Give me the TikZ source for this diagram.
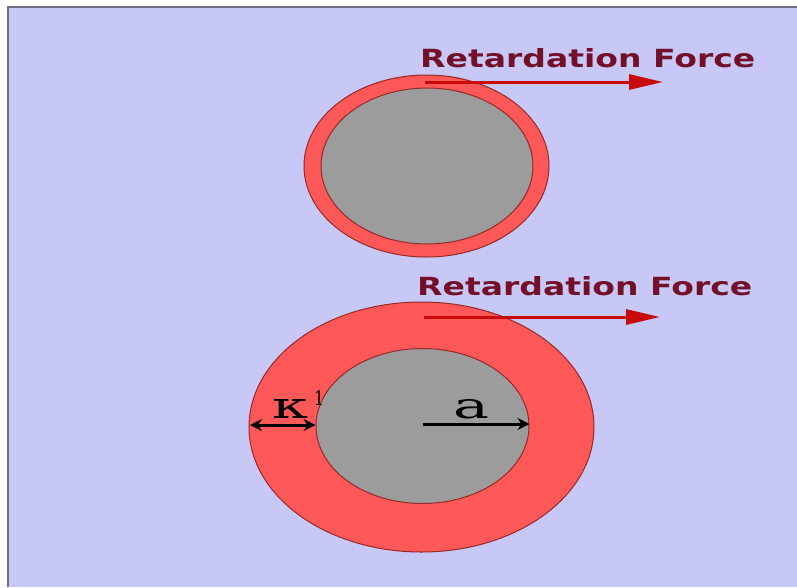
\documentclass[tikz,border=0pt]{standalone}
\usepackage{fontspec}
\usetikzlibrary{shapes.geometric,arrows.meta}
\newfontfamily\labelfont{DejaVu Sans}
\newfontfamily\symfont{DejaVu Serif}
\definecolor{bgcol}{RGB}{200,200,247}
\definecolor{framecol}{RGB}{110,110,130}
\definecolor{shellcol}{RGB}{255,88,88}
\definecolor{shelledge}{RGB}{150,40,40}
\definecolor{corecol}{RGB}{156,156,156}
\definecolor{textcol}{RGB}{115,15,40}
\definecolor{forcecol}{RGB}{200,10,10}
\tikzset{
  shell/.style={ellipse, draw=shelledge, line width=1pt, fill=shellcol, inner sep=0pt},
  core/.style={ellipse, draw=shelledge, line width=1pt, fill=corecol, inner sep=0pt},
  forcelabel/.style={text=textcol, inner sep=0pt, anchor=west},
  forcearrow/.style={draw=forcecol, line width=3pt, -{Triangle[length=34pt,width=15pt]}},
  dimarrow/.style={draw=black, line width=3pt, -{Stealth[length=12pt,width=12pt]}},
  dimdouble/.style={draw=black, line width=3pt, {Stealth[length=12pt,width=12pt]}-{Stealth[length=12pt,width=12pt]}},
  symlabel/.style={inner sep=0pt}
}
\begin{document}
\begin{tikzpicture}[x=1pt,y=-1pt]
\useasboundingbox (0,0) rectangle (797,587);
\fill[white] (0,0) rectangle (797,587);
\fill[bgcol] (8,7) rectangle (797,587);
\draw[framecol, line width=2pt] (8,587) -- (8,7) -- (797,7);
% top particle
\node[shell, minimum width=245pt, minimum height=182pt] (o1) at (426.5,166) {};
\node[core, minimum width=212pt, minimum height=156pt] (c1) at (427,166) {};
% bottom particle
\node[shell, minimum width=345pt, minimum height=250pt] (o2) at (421.5,427) {};
\node[core, minimum width=213pt, minimum height=155pt] (c2) at (422.5,426) {};
% labels
\node[forcelabel] (t1) at (420,58) {\resizebox{335pt}{19pt}{\labelfont\bfseries Retardation Force}};
\node[forcelabel] (t2) at (417,286) {\resizebox{335pt}{19pt}{\labelfont\bfseries Retardation Force}};
\coordinate (f1s) at (425,82);
\coordinate (f1e) at (663,82);
\coordinate (f2s) at (424,317);
\coordinate (f2e) at (660,317);
\draw[forcearrow] (f1s) -- (f1e);
\draw[forcearrow] (f2s) -- (f2e);
% dimension arrows
\coordinate (ks) at (250,425);
\coordinate (ke) at (c2.west |- 0,425);
\draw[dimdouble] (ks) -- (ke);
\coordinate (as) at (423,424);
\draw[dimarrow] (as) -- (c2.east |- 0,424);
\node[symlabel, anchor=south west] (kap) at (272,419) {\resizebox{36pt}{19pt}{\symfont κ}};
\node[symlabel, anchor=south west] (one) at (314,406) {\resizebox{10pt}{15pt}{\symfont 1}};
\node[symlabel, anchor=south west] (alab) at (453,419) {\resizebox{36pt}{19pt}{\symfont a}};
\end{tikzpicture}
\end{document}
